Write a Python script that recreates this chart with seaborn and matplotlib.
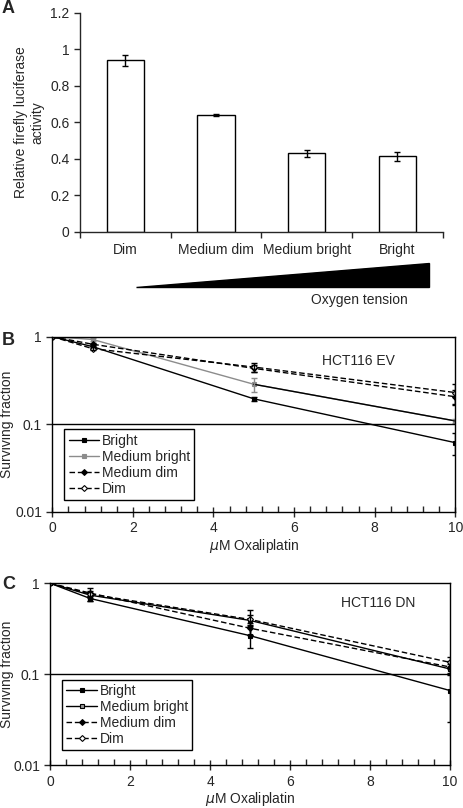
import numpy as np
import pandas as pd
import seaborn as sns
import matplotlib.pyplot as plt
from matplotlib.patches import Polygon
from matplotlib.ticker import MultipleLocator, FixedLocator

# panel A data
conditions = ['Dim', 'Medium dim', 'Medium bright', 'Bright']
luciferase = [0.94, 0.64, 0.43, 0.415]
luciferase_err = [0.03, 0.005, 0.02, 0.025]

# panels B / C data
dose = [0, 1, 5, 10]
series = ['Bright', 'Medium bright', 'Medium dim', 'Dim']

ev_bright = [1.0, 0.77, 0.195, 0.0615]
ev_bright_err = [0.0, 0.03, 0.01, 0.017]
ev_med_bright = [1.0, 0.93, 0.286, 0.109]
ev_med_bright_err = [0.0, 0.03, 0.05, 0.005]
ev_med_dim = [1.0, 0.82, 0.435, 0.206]
ev_med_dim_err = [0.0, 0.03, 0.04, 0.04]
ev_dim = [1.0, 0.73, 0.45, 0.23]
ev_dim_err = [0.0, 0.03, 0.05, 0.06]

dn_bright = [1.0, 0.68, 0.265, 0.066]
dn_bright_err = [0.0, 0.04, 0.07, 0.036]
dn_med_bright = [1.0, 0.74, 0.39, 0.114]
dn_med_bright_err = [0.0, 0.05, 0.12, 0.015]
dn_med_dim = [1.0, 0.78, 0.32, 0.12]
dn_med_dim_err = [0.0, 0.05, 0.05, 0.02]
dn_dim = [1.0, 0.76, 0.40, 0.135]
dn_dim_err = [0.0, 0.12, 0.05, 0.02]

sns.set_style("ticks")
plt.rcParams['font.family'] = ['Liberation Sans', 'DejaVu Sans']
plt.rcParams['font.size'] = 10
plt.rcParams['axes.linewidth'] = 1.0

fig = plt.figure(figsize=(4.64, 8.08), dpi=100)

# ---------- A ----------
axA = fig.add_axes([0.1724, 0.7129, 0.782, 0.2711])
dfA = pd.DataFrame({'condition': conditions, 'activity': luciferase})
sns.barplot(data=dfA, x='condition', y='activity', color='white', edgecolor='black',
            linewidth=1, width=0.41, saturation=1, errorbar=None, ax=axA)
axA.errorbar(range(len(conditions)), luciferase, yerr=luciferase_err, fmt='none',
             ecolor='black', elinewidth=1, capsize=2.5, capthick=1)
axA.set_xlim(-0.5, 3.5)
axA.set_ylim(0, 1.2)
axA.set_yticks(np.arange(0, 1.21, 0.2))
axA.set_yticklabels(['0', '0.2', '0.4', '0.6', '0.8', '1', '1.2'])
axA.xaxis.set_minor_locator(FixedLocator([-0.5, 0.5, 1.5, 2.5, 3.5]))
axA.tick_params(axis='x', which='major', length=0, pad=8, labelsize=10)
axA.tick_params(axis='x', which='minor', length=4, direction='out', width=1)
axA.tick_params(axis='y', length=4, width=1, labelsize=10)
axA.set_xlabel('')
axA.set_ylabel('Relative firefly luciferase\nactivity', fontsize=10)
sns.despine(ax=axA)

fig.patches.append(Polygon([[0.2931, 0.6448], [0.9246, 0.6448], [0.9246, 0.6745]],
                           closed=True, transform=fig.transFigure, facecolor='black',
                           edgecolor='black'))
fig.text(0.774, 0.6287, 'Oxygen tension', ha='center', va='center', fontsize=10)


def survival_panel(ax, values, errs, styles, tag, tag_xy, ylab_x):
    for name, vals, err, st in zip(series, values, errs, styles):
        sns.lineplot(x=dose, y=vals, color=st['color'], linestyle=st['ls'], marker=st['marker'],
                     markersize=st['ms'], markerfacecolor=st['mfc'], markeredgecolor=st['mec'],
                     markeredgewidth=0.8, linewidth=1, label=name, errorbar=None, ax=ax)
        if st.get('tail'):
            # the original draws this line black beyond the 5 uM point
            sns.lineplot(x=dose[2:], y=vals[2:], color=st['tail'], linewidth=1,
                         errorbar=None, ax=ax)
        ax.errorbar(dose, vals, yerr=err, fmt='none', ecolor=st['color'], elinewidth=1,
                    capsize=2.5, capthick=1)
    ax.set_yscale('log')
    ax.set_xlim(0, 10)
    ax.set_ylim(0.01, 1)
    ax.yaxis.set_major_locator(FixedLocator([0.01, 0.1, 1]))
    ax.set_yticklabels(['0.01', '0.1', '1'])
    ax.yaxis.set_minor_locator(FixedLocator([]))
    ax.axhline(0.1, color='black', linewidth=1)
    ax.xaxis.set_major_locator(MultipleLocator(2))
    ax.xaxis.set_minor_locator(MultipleLocator(0.4))
    ax.tick_params(axis='x', which='major', direction='inout', length=7, width=1, labelsize=10)
    ax.tick_params(axis='x', which='minor', direction='in', length=4, width=1)
    ax.tick_params(axis='y', which='major', direction='out', length=4, width=1, labelsize=10)
    ax.set_xlabel(r'$\mu$M Oxaliplatin', fontsize=10, labelpad=1)
    ax.set_ylabel('Surviving fraction', fontsize=10)
    ax.yaxis.set_label_coords(ylab_x, 0.5)
    for sp in ax.spines.values():
        sp.set_color('black')
    handles, labels = ax.get_legend_handles_labels()
    ax.legend(handles[:4], labels[:4], loc='upper left', bbox_to_anchor=(0.03, 0.47),
              fancybox=False, framealpha=1, edgecolor='black', fontsize=10, borderpad=0.3,
              labelspacing=0.15, handlelength=2.2, handletextpad=0.2, borderaxespad=0)
    ax.text(tag_xy[0], tag_xy[1], tag, transform=ax.transAxes, ha='center', va='center',
            fontsize=10)


# ---------- B ----------
axB = fig.add_axes([0.1127, 0.3667, 0.8685, 0.2166])
stylesB = [
    dict(color='black', ls='-', marker='s', ms=3.5, mfc='black', mec='black'),
    dict(color='#8c8c8c', ls='-', marker='s', ms=3.5, mfc='#8c8c8c', mec='#8c8c8c', tail='black'),
    dict(color='black', ls=(0, (4, 2)), marker='D', ms=3, mfc='black', mec='black'),
    dict(color='black', ls=(0, (4, 2)), marker='D', ms=3, mfc='white', mec='black'),
]
survival_panel(axB, [ev_bright, ev_med_bright, ev_med_dim, ev_dim],
               [ev_bright_err, ev_med_bright_err, ev_med_dim_err, ev_dim_err], stylesB,
               'HCT116 EV', (0.76, 0.86), -0.095)

# ---------- C ----------
axC = fig.add_axes([0.1084, 0.0532, 0.8614, 0.2249])
stylesC = [
    dict(color='black', ls='-', marker='s', ms=3.5, mfc='black', mec='black'),
    dict(color='black', ls='-', marker='s', ms=3.5, mfc='#999999', mec='black'),
    dict(color='black', ls=(0, (4, 2)), marker='D', ms=3, mfc='black', mec='black'),
    dict(color='black', ls=(0, (4, 2)), marker='D', ms=3, mfc='white', mec='black'),
]
survival_panel(axC, [dn_bright, dn_med_bright, dn_med_dim, dn_dim],
               [dn_bright_err, dn_med_bright_err, dn_med_dim_err, dn_dim_err], stylesC,
               'HCT116 DN', (0.82, 0.89), -0.091)

fig.text(0.004, 0.989, 'A', fontsize=13, fontweight='bold', va='center')
fig.text(0.004, 0.579, 'B', fontsize=13, fontweight='bold', va='center')
fig.text(0.004, 0.277, 'C', fontsize=13, fontweight='bold', va='center')

fig.savefig('out.png', dpi=100)
